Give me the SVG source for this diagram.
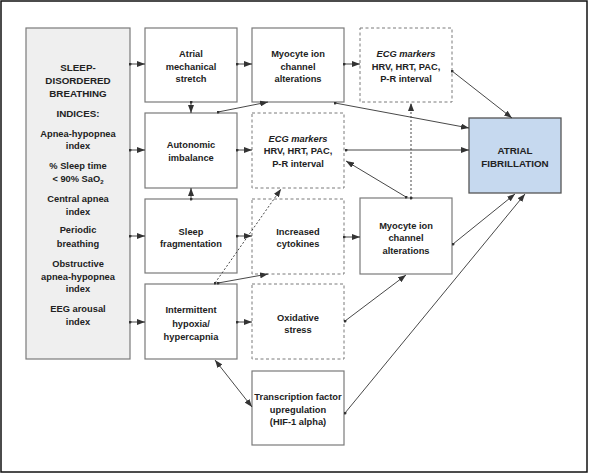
<svg xmlns="http://www.w3.org/2000/svg" width="590" height="474" viewBox="0 0 590 474">
<style>
text{font-family:"Liberation Sans",Arial,sans-serif;font-weight:bold;font-size:9.3px;fill:#222;text-anchor:middle}
.box{fill:#fff;stroke:#7a7a7a;stroke-width:1.2}
.dbox{fill:#fff;stroke:#7a7a7a;stroke-width:1;stroke-dasharray:3,2.5}
.grey{fill:#efefef;stroke:#7a7a7a;stroke-width:1.2}
.af{fill:#c6d9ef;stroke:#555;stroke-width:1.3}
.c{fill:none;stroke:#333;stroke-width:0.9;marker-end:url(#arr);marker-start:url(#dot)}
.dash{stroke-dasharray:2,2}
.dbl{marker-start:url(#arr2)}
.it{font-style:italic}
.big{font-size:9.8px}
</style>
<defs>
<marker id="arr" viewBox="0 0 8 6" refX="8" refY="3" markerWidth="8" markerHeight="6" markerUnits="userSpaceOnUse" orient="auto"><path d="M0,0 L8,3 L0,6 z" fill="#333"/></marker>
<marker id="arr2" viewBox="0 0 8 6" refX="8" refY="3" markerWidth="8" markerHeight="6" markerUnits="userSpaceOnUse" orient="auto-start-reverse"><path d="M0,0 L8,3 L0,6 z" fill="#333"/></marker>
<marker id="dot" viewBox="0 0 4 4" refX="2" refY="2" markerWidth="3" markerHeight="3" markerUnits="userSpaceOnUse"><circle cx="2" cy="2" r="2" fill="#333"/></marker>
</defs>
<rect x="1" y="1" width="586" height="471" fill="#fff" stroke="#111" stroke-width="1.5"/>

<g id="sdb">
<rect class="grey" x="26" y="28" width="104" height="331"/>
<text class="big" x="78" y="70.5">SLEEP-</text>
<text class="big" x="78" y="83.5">DISORDERED</text>
<text class="big" x="78" y="96.5">BREATHING</text>
<text class="big" x="78" y="116.5">INDICES:</text>
<text x="78" y="136.5">Apnea-hypopnea</text>
<text x="78" y="148.5">index</text>
<text x="78" y="168.5">% Sleep time</text>
<text x="78" y="181.5">&lt; 90% SaO<tspan font-size="6" dy="2">2</tspan></text>
<text x="78" y="201.5">Central apnea</text>
<text x="78" y="214.5">index</text>
<text x="78" y="232.5">Periodic</text>
<text x="78" y="246.5">breathing</text>
<text x="78" y="266.5">Obstructive</text>
<text x="78" y="279.5">apnea-hypopnea</text>
<text x="78" y="291.5">index</text>
<text x="78" y="311.5">EEG arousal</text>
<text x="78" y="324.5">index</text>
</g>

<g id="stretch">
<rect class="box" x="145" y="28" width="92" height="74"/>
<text x="191" y="56.5">Atrial</text>
<text x="191" y="69.5">mechanical</text>
<text x="191" y="81.5">stretch</text>
</g>
<g id="autonomic">
<rect class="box" x="145" y="113" width="92" height="75"/>
<text x="191" y="147.5">Autonomic</text>
<text x="191" y="160.5">imbalance</text>
</g>
<g id="sleepfrag">
<rect class="box" x="145" y="199" width="92" height="74"/>
<text x="191" y="234.5">Sleep</text>
<text x="191" y="246.5">fragmentation</text>
</g>
<g id="hypoxia">
<rect class="box" x="145" y="284" width="92" height="75"/>
<text x="191" y="312.5">Intermittent</text>
<text x="191" y="326.5">hypoxia/</text>
<text x="191" y="339.5">hypercapnia</text>
</g>

<g id="myocyte1">
<rect class="box" x="252" y="28" width="92" height="74"/>
<text x="298" y="56.5">Myocyte ion</text>
<text x="298" y="69.5">channel</text>
<text x="298" y="81.5">alterations</text>
</g>
<g id="ecg2">
<rect class="dbox" x="252" y="113" width="92" height="75"/>
<text class="it" x="298" y="141.5">ECG markers</text>
<text x="298" y="153.5">HRV, HRT, PAC,</text>
<text x="298" y="166.5">P-R interval</text>
</g>
<g id="cytokines">
<rect class="dbox" x="252" y="199" width="92" height="75"/>
<text x="298" y="234.5">Increased</text>
<text x="298" y="246.5">cytokines</text>
</g>
<g id="oxidative">
<rect class="dbox" x="252" y="284" width="92" height="75"/>
<text x="298" y="320.5">Oxidative</text>
<text x="298" y="332.5">stress</text>
</g>
<g id="transcription">
<rect class="box" x="252" y="371" width="92" height="74"/>
<text x="298" y="399.5">Transcription factor</text>
<text x="298" y="412.5">upregulation</text>
<text x="298" y="424.5">(HIF-1 alpha)</text>
</g>

<g id="ecg1">
<rect class="dbox" x="360" y="28" width="92" height="74"/>
<text class="it" x="406" y="56.5">ECG markers</text>
<text x="406" y="69.5">HRV, HRT, PAC,</text>
<text x="406" y="81.5">P-R interval</text>
</g>
<g id="myocyte2">
<rect class="box" x="360" y="198" width="92" height="76"/>
<text x="406" y="228.5">Myocyte ion</text>
<text x="406" y="240.5">channel</text>
<text x="406" y="253.5">alterations</text>
</g>

<g id="af">
<rect class="af" x="469" y="118" width="92" height="75"/>
<text class="big" x="515" y="153.5">ATRIAL</text>
<text class="big" x="515" y="166.5">FIBRILLATION</text>
</g>

<g id="connectors">
<line class="c" x1="130" y1="64" x2="145" y2="64"/>
<line class="c" x1="130" y1="150" x2="145" y2="150"/>
<line class="c" x1="130" y1="236" x2="145" y2="236"/>
<line class="c" x1="130" y1="322" x2="145" y2="322"/>
<line class="c" x1="237" y1="64" x2="252" y2="64"/>
<line class="c" x1="237" y1="150" x2="252" y2="150"/>
<line class="c" x1="237" y1="236" x2="252" y2="236"/>
<line class="c" x1="237" y1="322" x2="252" y2="322"/>
<line class="c" x1="344" y1="64" x2="360" y2="64"/>
<line class="c" x1="344" y1="237" x2="360" y2="237"/>
<line class="c" x1="191" y1="102" x2="191" y2="113"/>
<line class="c" x1="191" y1="199" x2="191" y2="188"/>
<line class="c" x1="218" y1="112" x2="268" y2="102"/>
<line class="c dash" x1="215" y1="283" x2="281" y2="189"/>
<line class="c" x1="218" y1="283" x2="268" y2="274"/>
<line class="c dbl" x1="215" y1="360" x2="252" y2="407"/>
<line class="c" x1="452" y1="71" x2="512" y2="118"/>
<line class="c" x1="335" y1="103" x2="469" y2="128"/>
<line class="c" x1="346" y1="150" x2="469" y2="150"/>
<line class="c" x1="406" y1="197" x2="346" y2="161"/>
<line class="c dash" x1="411" y1="198" x2="411" y2="103"/>
<line class="c" x1="345" y1="321" x2="406" y2="275"/>
<line class="c" x1="453" y1="244" x2="515" y2="194"/>
<line class="c" x1="345" y1="413" x2="525" y2="194"/>
</g>
</svg>
